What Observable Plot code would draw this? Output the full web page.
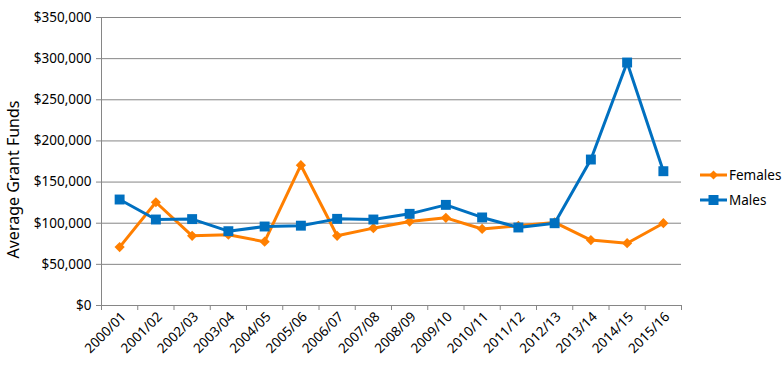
<!DOCTYPE html>
<html>
<head>
<meta charset="utf-8">
<script src="https://cdn.jsdelivr.net/npm/d3@7"></script>
<script src="https://cdn.jsdelivr.net/npm/@observablehq/plot@0.6"></script>
<style>
  body { margin: 0; background: #fff; font-family: "Noto Sans", sans-serif; }
  #wrap { position: relative; width: 783px; height: 384px; }
  #legend { position: absolute; left: 700px; top: 162px; width: 83px; font-size: 13.5px; color: #000; white-space: nowrap; }
  .item { display: flex; align-items: center; height: 25px; }
  .item span { margin-left: 2px; }
</style>
</head>
<body>
<div id="wrap"><div id="legend"></div></div>
<script>
const years = ["2000/01","2001/02","2002/03","2003/04","2004/05","2005/06","2006/07","2007/08","2008/09","2009/10","2010/11","2011/12","2012/13","2013/14","2014/15","2015/16"];
const females = [71000,125500,84700,86000,77500,170500,84700,94000,102000,106500,93000,96800,101000,79500,75700,100000];
const males = [128800,104500,105000,90300,96000,97000,105300,104500,111400,122300,107000,94800,100000,177400,295300,163200];
const yTicks = [0,50000,100000,150000,200000,250000,300000,350000];
const seriesNames = ["Females","Males"];
const colors = {Females: "#FF7F00", Males: "#0070C0"};

const idx = years.map((_, i) => i);
const bounds = [-0.5, ...idx.map(i => i + 0.5)];
const fData = idx.map(i => ({i, v: females[i]}));
const mData = idx.map(i => ({i, v: males[i]}));
const gray = "#868686";
const fmt = d => "$" + d3.format(",")(d);

const chart = Plot.plot({
  width: 783,
  height: 384,
  marginLeft: 101,
  marginRight: 102,
  marginTop: 17,
  marginBottom: 79,
  style: {fontFamily: "Noto Sans, sans-serif", background: "#fff"},
  x: {type: "linear", domain: [-0.5, years.length - 0.5]},
  y: {domain: [0, 350000]},
  marks: [
    Plot.gridY(yTicks, {stroke: gray, strokeOpacity: 1}),
    Plot.ruleX([-0.5], {stroke: gray}),
    Plot.ruleY([0], {stroke: gray}),
    Plot.axisY(yTicks, {tickFormat: fmt, tickSize: 5, tickPadding: 5, stroke: gray, fontSize: 13.5, color: "#000", label: null}),
    Plot.axisX(bounds, {tickSize: 5, tickFormat: () => "", stroke: gray, label: null}),
    Plot.axisX(idx, {tickSize: 0, tickFormat: i => years[i], tickRotate: -45, tickPadding: 9, dx: 4, fontSize: 13.5, color: "#000", label: null}),
    Plot.text(["Average Grant Funds"], {frameAnchor: "left", textAnchor: "middle", dx: -88, dy: 18, rotate: -90, fontSize: 16, fill: "#000"}),
    Plot.line(fData, {x: "i", y: "v", stroke: colors.Females, strokeWidth: 3}),
    Plot.dot(fData, {x: "i", y: "v", symbol: "diamond2", r: 4.6, fill: colors.Females, stroke: "none"}),
    Plot.line(mData, {x: "i", y: "v", stroke: colors.Males, strokeWidth: 3}),
    Plot.dot(mData, {x: "i", y: "v", symbol: "square", r: 5.6, fill: colors.Males, stroke: "none"})
  ]
});
document.getElementById("wrap").prepend(chart);

const legend = document.getElementById("legend");
for (const name of seriesNames) {
  const marker = name === "Females"
    ? `<path d="M13.5,5.5 L18,10 L13.5,14.5 L9,10 Z" fill="${colors[name]}"/>`
    : `<rect x="8.5" y="5" width="10" height="10" fill="${colors[name]}"/>`;
  legend.insertAdjacentHTML("beforeend",
    `<div class="item"><svg width="27" height="20"><line x1="0" x2="27" y1="10" y2="10" stroke="${colors[name]}" stroke-width="3"/>${marker}</svg><span>${name}</span></div>`);
}
</script>
</body>
</html>
